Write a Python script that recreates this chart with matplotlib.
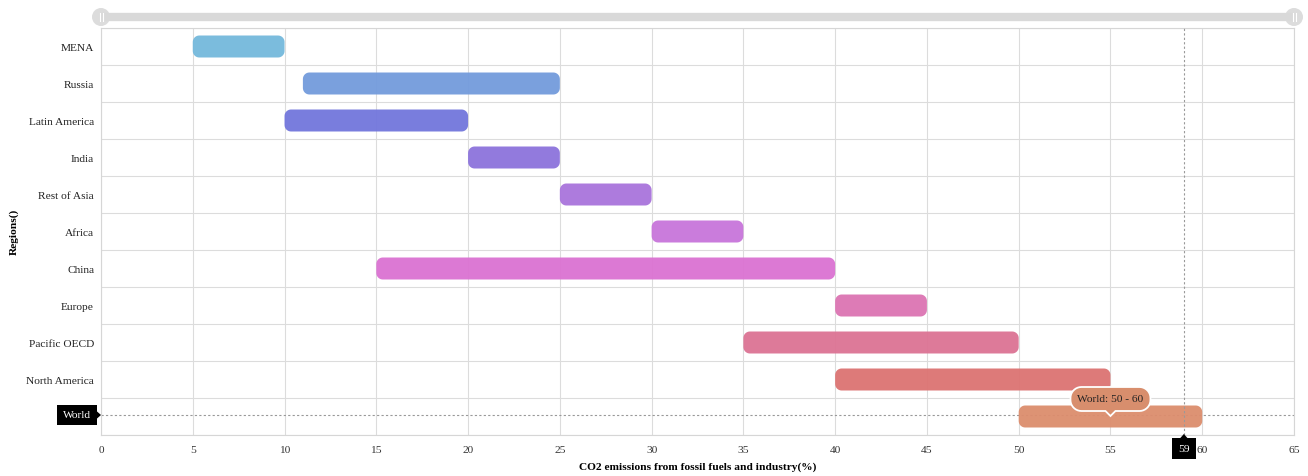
import numpy as np
import matplotlib
matplotlib.use("Agg")
import matplotlib.pyplot as plt
from matplotlib.patches import FancyBboxPatch, Ellipse, Polygon
from matplotlib.lines import Line2D

# Emission ranges per region (start, end) in %
regions = ["MENA", "Russia", "Latin America", "India", "Rest of Asia", "Africa",
           "China", "Europe", "Pacific OECD", "North America", "World"]
starts = [5, 11, 10, 20, 25, 30, 15, 40, 35, 40, 50]
ends = [10, 25, 20, 25, 30, 35, 40, 45, 50, 55, 60]
colors = ["#74b9dc", "#739bdc", "#7276dc", "#8c73dc", "#a974dc", "#c875da",
          "#db72d2", "#dc74b2", "#dc7394", "#dc7372", "#dc8d6d"]
xticks = list(range(0, 66, 5))
cursor_x = 59
cursor_region = "World"

plt.rcParams["font.family"] = ["Liberation Serif", "DejaVu Serif"]
FS = 8.2

W, H = 1308, 477
fig = plt.figure(figsize=(W / 100, H / 100), dpi=100)
L, R, T, B = 101, 1294, 29, 436
ax = fig.add_axes([L / W, 1 - B / H, (R - L) / W, (B - T) / H])

n = len(regions)
ax.set_xlim(0, 65)
ax.set_ylim(n - 0.5, -0.5)

px_x = (R - L) / 65.0
px_y = (B - T) / n


def rounded_rect(x0, x1, y0, y1, rx, ry, k=10):
    """Vertices of a rectangle with elliptical-arc corners."""
    t = np.linspace(0, np.pi / 2, k)
    pts = []
    corners = [(x1 - rx, y1 - ry, 0), (x0 + rx, y1 - ry, np.pi / 2),
               (x0 + rx, y0 + ry, np.pi), (x1 - rx, y0 + ry, 3 * np.pi / 2)]
    for cx, cy, a0 in corners:
        for a in a0 + t:
            pts.append((cx + rx * np.cos(a), cy + ry * np.sin(a)))
    return pts


bar_px, r_px = 22, 6.5
for i, (s, e, c) in enumerate(zip(starts, ends, colors)):
    h = bar_px / px_y
    verts = rounded_rect(s, e, i - h / 2, i + h / 2, r_px / px_x, r_px / px_y)
    ax.add_patch(Polygon(verts, closed=True, facecolor=c, edgecolor="none",
                         alpha=0.95, zorder=3))

wi = regions.index(cursor_region)
ax.set_xticks(xticks)
ax.set_xticklabels([str(t) for t in xticks], fontsize=FS, color="#333333")
ax.set_yticks(range(n))
ax.set_yticklabels(regions, fontsize=FS, color="#222222")
# the hovered category is shown in the crosshair label instead
ax.get_yticklabels()[wi].set_visible(False)
ax.tick_params(axis="x", length=0, pad=7)
ax.tick_params(axis="y", length=0, pad=5)

# grid: vertical lines at ticks, horizontal between rows
for t in xticks:
    ax.axvline(t, color="#dcdcdc", lw=0.8, zorder=1)
for k in range(n + 1):
    ax.axhline(k - 0.5, color="#dcdcdc", lw=0.8, zorder=1)
for sp in ax.spines.values():
    sp.set_color("#d6d6d6")
    sp.set_linewidth(0.8)

fig.text((L + R) / 2 / W, 1 - 467 / H, "CO2 emissions from fossil fuels and industry(%)",
         fontsize=FS, fontweight="bold", ha="center", va="center")
fig.text(14 / W, 1 - 232 / H, "Regions()", rotation=90, fontsize=FS,
         fontweight="bold", ha="center", va="center")

# crosshair
ax.axvline(cursor_x, color="#999999", lw=0.8, ls=(0, (2, 2)), zorder=4)
ax.axhline(wi - 0.05, color="#999999", lw=0.8, ls=(0, (2, 2)), zorder=2)

# crosshair labels
cx_px = L + cursor_x * px_x
fig.patches.append(FancyBboxPatch(((cx_px - 12) / W, 1 - 460 / H), 24 / W, 21 / H,
                                  boxstyle="square,pad=0", transform=fig.transFigure,
                                  facecolor="black", edgecolor="none"))
fig.patches.append(Polygon([((cx_px - 4) / W, 1 - 439.5 / H), ((cx_px + 4) / W, 1 - 439.5 / H),
                            (cx_px / W, 1 - 435 / H)], closed=True,
                           transform=fig.transFigure, facecolor="black", edgecolor="none"))
fig.text(cx_px / W, 1 - 449.5 / H, str(cursor_x), color="white", fontsize=FS,
         ha="center", va="center")

wy = 416
fig.patches.append(FancyBboxPatch((57 / W, 1 - (wy + 10) / H), 40 / W, 20 / H,
                                  boxstyle="square,pad=0", transform=fig.transFigure,
                                  facecolor="black", edgecolor="none"))
fig.patches.append(Polygon([(96.5 / W, 1 - (wy - 4) / H), (96.5 / W, 1 - (wy + 4) / H),
                            (101 / W, 1 - wy / H)], closed=True,
                           transform=fig.transFigure, facecolor="black", edgecolor="none"))
fig.text(77 / W, 1 - wy / H, cursor_region, color="white", fontsize=FS,
         ha="center", va="center")

# tooltip over the World bar
tip_x = (starts[wi] + ends[wi]) / 2
tx_px = L + tip_x * px_x
tw, th = 80, 24
ty_top = 388
tip_verts = rounded_rect((tx_px - tw / 2) / W, (tx_px + tw / 2) / W,
                         1 - (ty_top + th) / H, 1 - ty_top / H, 11 / W, 11 / H)
# insert the downward pointer at the bottom middle of the outline
bottom = 1 - (ty_top + th) / H
outline = []
for j, (vx, vy) in enumerate(tip_verts):
    outline.append((vx, vy))
    if j == 3 * 10 - 1:
        outline += [((tx_px - 5) / W, bottom), (tx_px / W, bottom - 5 / H),
                    ((tx_px + 5) / W, bottom)]
fig.patches.append(Polygon(outline, closed=True,
                           transform=fig.transFigure, facecolor="#d88e6d",
                           edgecolor="white", lw=1.3, zorder=10))
fig.text(tx_px / W, 1 - (ty_top + th / 2) / H,
         f"{cursor_region}: {starts[wi]} - {ends[wi]}", fontsize=FS, color="#222222",
         ha="center", va="center", zorder=12)

# range slider on top
sy = 1 - 18 / H
fig.lines.append(Line2D([L / W, R / W], [sy, sy], transform=fig.transFigure,
                        color="#d9d9d9", lw=6, solid_capstyle="butt"))
for hx in (L, R):
    fig.patches.append(Ellipse((hx / W, sy), 18 / W, 18 / H, transform=fig.transFigure,
                               facecolor="#dcdcdc", edgecolor="none"))
    for dx in (-1.5, 1.5):
        fig.lines.append(Line2D([(hx + dx) / W] * 2, [sy - 4 / H, sy + 4 / H],
                                transform=fig.transFigure, color="white", lw=0.8))

fig.savefig("out.png", dpi=100, facecolor="white")
